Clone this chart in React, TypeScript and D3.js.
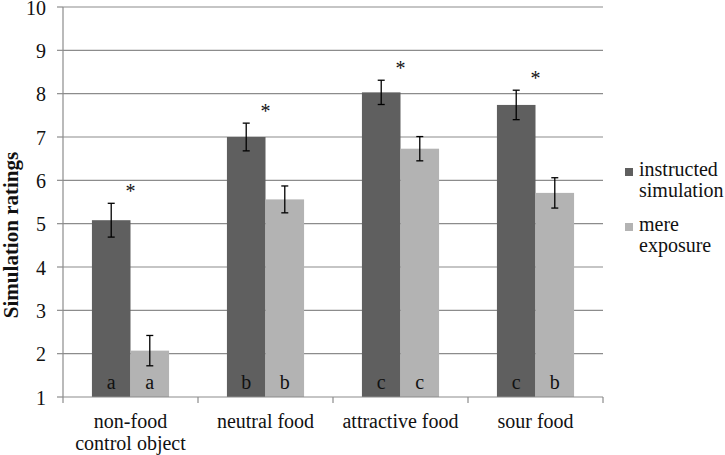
import React, { useEffect, useRef } from "react";
import * as d3 from "d3";

// values
const categories = ["non-food control object", "neutral food", "attractive food", "sour food"];
const categoryLines = [["non-food", "control object"], ["neutral food"], ["attractive food"], ["sour food"]];
const seriesNames = ["instructed simulation", "mere exposure"];
const legendLines = [["instructed", "simulation"], ["mere", "exposure"]];
const instructed = [5.08, 7.0, 8.03, 7.74];
const instructedErr = [0.39, 0.32, 0.28, 0.34];
const mere = [2.07, 5.56, 6.73, 5.71];
const mereErr = [0.35, 0.31, 0.28, 0.35];
const instructedLetters = ["a", "b", "c", "c"];
const mereLetters = ["a", "b", "c", "b"];
const significant = [true, true, true, true];
const yTicks = [1, 2, 3, 4, 5, 6, 7, 8, 9, 10];

const WIDTH = 725;
const HEIGHT = 455;
const FONT = "'Liberation Serif', 'Times New Roman', serif";
const colors = ["#5f5f5f", "#b3b3b3"];

const App: React.FC = () => {
    const svgRef = useRef<SVGSVGElement | null>(null);

    useEffect(() => {
        document.body.style.margin = "0";
        if (!svgRef.current) return;
        const svg = d3.select(svgRef.current);
        svg.selectAll("*").remove();

        const left = 63, right = 603, top = 7, bottom = 397;

        const y = d3.scaleLinear().domain([1, 10]).range([bottom, top]);
        const x0 = d3.scaleBand<string>().domain(categories).range([left, right]).padding(0);
        const band = x0.bandwidth();
        const barW = band / 3.5;
        const x1 = d3
            .scaleBand<string>()
            .domain(seriesNames)
            .range([barW * 0.75, band - barW * 0.75])
            .padding(0);

        const g = svg.append("g");
        const txt = (sel: any, size = 20) =>
            sel.style("font-family", FONT).style("font-size", size + "px").attr("fill", "#111");

        // gridlines
        g.selectAll("line.grid")
            .data(yTicks.slice(1))
            .enter()
            .append("line")
            .attr("x1", left)
            .attr("x2", right)
            .attr("y1", (d) => y(d))
            .attr("y2", (d) => y(d))
            .attr("stroke", "#8c8c8c")
            .attr("stroke-width", 1.2);

        // bars
        const rows = categories.map((c, i) => ({
            cat: c,
            i,
            vals: [
                { s: seriesNames[0], v: instructed[i], e: instructedErr[i], l: instructedLetters[i], k: 0 },
                { s: seriesNames[1], v: mere[i], e: mereErr[i], l: mereLetters[i], k: 1 },
            ],
        }));

        const groups = g
            .selectAll("g.cat")
            .data(rows)
            .enter()
            .append("g")
            .attr("transform", (d) => `translate(${x0(d.cat)},0)`);

        groups
            .selectAll("rect")
            .data((d) => d.vals)
            .enter()
            .append("rect")
            .attr("x", (d) => x1(d.s)!)
            .attr("y", (d) => y(d.v))
            .attr("width", x1.bandwidth())
            .attr("height", (d) => bottom - y(d.v))
            .attr("fill", (d) => colors[d.k]);

        // error bars
        const err = groups
            .selectAll("g.err")
            .data((d) => d.vals)
            .enter()
            .append("g")
            .attr("stroke", "#000")
            .attr("stroke-width", 1.3);
        const cx = (d: any) => x1(d.s)! + x1.bandwidth() / 2;
        err.append("line")
            .attr("x1", cx)
            .attr("x2", cx)
            .attr("y1", (d) => y(d.v + d.e))
            .attr("y2", (d) => y(d.v - d.e));
        err.append("line")
            .attr("x1", (d) => cx(d) - 3.5)
            .attr("x2", (d) => cx(d) + 3.5)
            .attr("y1", (d) => y(d.v + d.e))
            .attr("y2", (d) => y(d.v + d.e));
        err.append("line")
            .attr("x1", (d) => cx(d) - 3.5)
            .attr("x2", (d) => cx(d) + 3.5)
            .attr("y1", (d) => y(d.v - d.e))
            .attr("y2", (d) => y(d.v - d.e));

        // letters in bars
        txt(
            groups
                .selectAll("text.letter")
                .data((d) => d.vals)
                .enter()
                .append("text")
                .attr("x", cx)
                .attr("y", bottom - 8)
                .attr("text-anchor", "middle")
        ).text((d: any) => d.l);

        // significance asterisks
        txt(
            groups
                .filter((d) => significant[d.i])
                .append("text")
                .attr("x", band / 2)
                .attr("y", (d) => y(d.vals[0].v + d.vals[0].e) - 5)
                .attr("text-anchor", "middle")
        ).text("*");

        // y axis
        g.append("line")
            .attr("x1", left).attr("x2", left)
            .attr("y1", top).attr("y2", bottom)
            .attr("stroke", "#8c8c8c").attr("stroke-width", 1.2);
        g.selectAll("line.ytick")
            .data(yTicks)
            .enter()
            .append("line")
            .attr("x1", left - 6).attr("x2", left)
            .attr("y1", (d) => y(d)).attr("y2", (d) => y(d))
            .attr("stroke", "#8c8c8c").attr("stroke-width", 1.2);
        txt(
            g.selectAll("text.ylab")
                .data(yTicks)
                .enter()
                .append("text")
                .attr("x", 46)
                .attr("y", (d) => y(d) + 7.5)
                .attr("text-anchor", "end")
        ).text((d: number) => String(d));

        // x axis
        g.append("line")
            .attr("x1", left).attr("x2", right)
            .attr("y1", bottom).attr("y2", bottom)
            .attr("stroke", "#8c8c8c").attr("stroke-width", 1.2);
        const edges = categories.map((c) => x0(c)!).concat([right]);
        g.selectAll("line.xtick")
            .data(edges)
            .enter()
            .append("line")
            .attr("x1", (d) => d).attr("x2", (d) => d)
            .attr("y1", bottom).attr("y2", bottom + 6)
            .attr("stroke", "#8c8c8c").attr("stroke-width", 1.2);
        const xl = txt(
            g.selectAll("text.xlab")
                .data(categories)
                .enter()
                .append("text")
                .attr("text-anchor", "middle")
        );
        xl.selectAll("tspan")
            .data((d: string) => categoryLines[categories.indexOf(d)].map((t) => ({ t, c: d })))
            .enter()
            .append("tspan")
            .attr("x", (d: any) => x0(d.c)! + band / 2)
            .attr("y", (d: any, j: number) => 428 + j * 22)
            .text((d: any) => d.t);

        // y title
        txt(
            g.append("text")
                .attr("transform", `translate(18,235) rotate(-90)`)
                .attr("text-anchor", "middle")
                .style("font-weight", "bold"),
            21
        ).text("Simulation ratings");

        // legend
        const leg = g
            .selectAll("g.leg")
            .data(seriesNames)
            .enter()
            .append("g")
            .attr("transform", (d, i) => `translate(625,${168 + i * 55})`);
        leg.append("rect")
            .attr("width", 8)
            .attr("height", 8)
            .attr("fill", (d, i) => colors[i]);
        txt(leg.append("text"))
            .selectAll("tspan")
            .data((d: string, i: number) => legendLines[i])
            .enter()
            .append("tspan")
            .attr("x", 14)
            .attr("y", (d: string, j: number) => 8 + j * 21)
            .text((d: string) => d);
    }, []);

    return <svg ref={svgRef} width={WIDTH} height={HEIGHT} style={{ display: "block", background: "#fff" }} />;
};

export default App;
